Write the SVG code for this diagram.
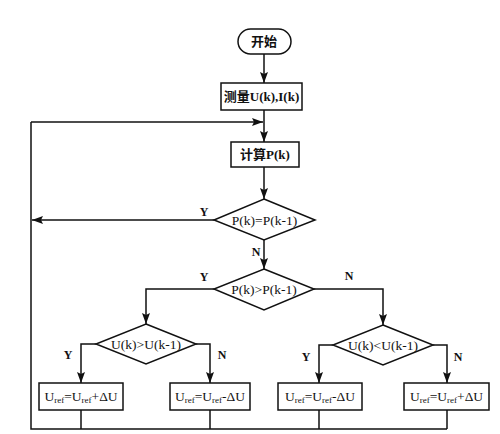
<svg xmlns="http://www.w3.org/2000/svg" width="500" height="434" viewBox="0 0 500 434">
<defs>
<marker id="ah" markerUnits="userSpaceOnUse" markerWidth="11" markerHeight="8" refX="11" refY="4" orient="auto">
<path d="M0,0 L11,4 L0,8 L2,4 Z" fill="#111"/>
</marker>
<style>
.s{fill:#fff;stroke:#111;stroke-width:1.5}
.c{fill:none;stroke:#111;stroke-width:1.5}
.t{font-family:"Liberation Serif","Noto Sans CJK SC",serif;font-size:13px;fill:#111;text-anchor:middle}
.d{font-size:13.5px}
.b{font-weight:bold}
.l{font-family:"Liberation Serif",serif;font-size:12px;font-weight:bold;fill:#111;text-anchor:middle}
.sub{font-size:9px}
</style>
</defs>
<rect width="500" height="434" fill="#fff"/>
<g id="connectors">
<path class="c" d="M264,54 V83" marker-end="url(#ah)"/>
<path class="c" d="M264,110 V142" marker-end="url(#ah)"/>
<path class="c" d="M31,122 H263" marker-end="url(#ah)"/>
<path class="c" d="M264,167 V199" marker-end="url(#ah)"/>
<path class="c" d="M214,220 H32" marker-end="url(#ah)"/>
<path class="c" d="M264,240 V269" marker-end="url(#ah)"/>
<path class="c" d="M214,289 H146 V324" marker-end="url(#ah)"/>
<path class="c" d="M314,289 H383 V325" marker-end="url(#ah)"/>
<path class="c" d="M96,344 H81 V383" marker-end="url(#ah)"/>
<path class="c" d="M196,344 H210 V383" marker-end="url(#ah)"/>
<path class="c" d="M333,345 H319 V383" marker-end="url(#ah)"/>
<path class="c" d="M433,345 H447 V383" marker-end="url(#ah)"/>
<path class="c" d="M81,410 V429 M210,410 V429 M319,410 V429 M447,410 V429"/>
<path class="c" d="M447,429 H31 V122"/>
<text class="l" x="204" y="216">Y</text>
<text class="l" x="256" y="256">N</text>
<text class="l" x="204" y="281">Y</text>
<text class="l" x="349" y="280">N</text>
<text class="l" x="68" y="359">Y</text>
<text class="l" x="222" y="359">N</text>
<text class="l" x="306" y="361">Y</text>
<text class="l" x="458" y="361">N</text>
</g>
<g id="start">
<rect class="s" x="238" y="29" width="53" height="25" rx="12.5"/>
<text class="t b" x="264" y="46">开始</text>
</g>
<g id="measure">
<rect class="s" x="221" y="83" width="81" height="27"/>
<text class="t b" x="261.5" y="101">测量U(k),I(k)</text>
</g>
<g id="calc">
<rect class="s" x="231" y="142" width="68" height="25"/>
<text class="t b" x="265" y="159">计算P(k)</text>
</g>
<g id="d1">
<path class="s" d="M264,199 L315,220 L264,240 L214,220 Z"/>
<text class="t d" x="264.5" y="224.5">P(k)=P(k-1)</text>
</g>
<g id="d2">
<path class="s" d="M264,269 L314,289 L264,310 L214,289 Z"/>
<text class="t d" x="264" y="293.5">P(k)&gt;P(k-1)</text>
</g>
<g id="d3">
<path class="s" d="M146,324 L196,344 L146,364 L96,344 Z"/>
<text class="t d" x="146" y="348.5">U(k)&gt;U(k-1)</text>
</g>
<g id="d4">
<path class="s" d="M383,325 L433,345 L383,365 L333,345 Z"/>
<text class="t d" x="383" y="349.5">U(k)&lt;U(k-1)</text>
</g>
<g id="box1">
<rect class="s" x="39" y="383" width="84" height="27"/>
<text class="t d" x="81" y="401">U<tspan class="sub" dy="2">ref</tspan><tspan dy="-2">=U</tspan><tspan class="sub" dy="2">ref</tspan><tspan dy="-2">+ΔU</tspan></text>
</g>
<g id="box2">
<rect class="s" x="170" y="383" width="80" height="27"/>
<text class="t d" x="210" y="401">U<tspan class="sub" dy="2">ref</tspan><tspan dy="-2">=U</tspan><tspan class="sub" dy="2">ref</tspan><tspan dy="-2">-ΔU</tspan></text>
</g>
<g id="box3">
<rect class="s" x="278" y="383" width="84" height="27"/>
<text class="t d" x="320" y="401">U<tspan class="sub" dy="2">ref</tspan><tspan dy="-2">=U</tspan><tspan class="sub" dy="2">ref</tspan><tspan dy="-2">-ΔU</tspan></text>
</g>
<g id="box4">
<rect class="s" x="404" y="383" width="85" height="27"/>
<text class="t d" x="446.5" y="401">U<tspan class="sub" dy="2">ref</tspan><tspan dy="-2">=U</tspan><tspan class="sub" dy="2">ref</tspan><tspan dy="-2">+ΔU</tspan></text>
</g>
</svg>
